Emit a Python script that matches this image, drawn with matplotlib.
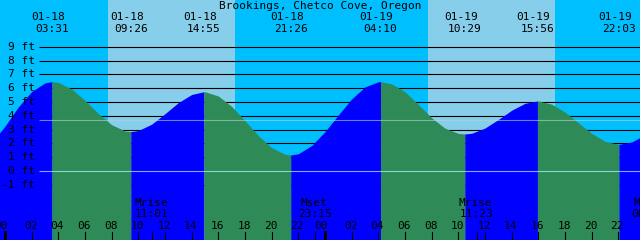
import numpy as np
import matplotlib
matplotlib.use('Agg')
import matplotlib.pyplot as plt
from matplotlib import transforms

# Tide heights (ft), hourly from 01-18 -01:00 to 01-20 00:00
hours = list(range(-1, 49))
feet = [2.05, 3.25, 4.64, 5.75, 6.38, 6.41, 5.94, 5.11, 4.16, 3.35,
        2.90, 2.93, 3.39, 4.15, 4.95, 5.54, 5.74, 5.43, 4.68, 3.64,
        2.56, 1.69, 1.21, 1.25, 1.84, 2.85, 4.06, 5.22, 6.09, 6.46,
        6.31, 5.74, 4.82, 3.85, 3.10, 2.72, 2.73, 3.11, 3.73, 4.40,
        4.90, 5.07, 4.84, 4.27, 3.49, 2.72, 2.15, 1.93, 2.10, 2.62]

# High / low tide events
tide_dates = ['01-18', '01-18', '01-18', '01-18', '01-19', '01-19', '01-19', '01-19']
tide_times = ['03:31', '09:26', '14:55', '21:26', '04:10', '10:29', '15:56', '22:03']
tide_feet = [6.47, 2.85, 5.74, 1.16, 6.47, 2.68, 5.07, 1.93]

# Moon rise / set
moon_names = ['Mrise', 'Mset', 'Mrise', 'Mset']
moon_dates = ['01-18', '01-18', '01-19', '01-20']
moon_times = ['11:01', '23:15', '11:23', '00:13']

# Daylight (sunrise, sunset)
sun_dates = ['01-18', '01-19']
sunrise = ['07:43', '07:43']
sunset = ['17:15', '17:15']

ft_levels = [9, 8, 7, 6, 5, 4, 3, 2, 1, 0, -1]
mean_level = 3.69
title = 'Brookings, Chetco Cove, Oregon'

NIGHT = '#00BFFF'
DAY = '#87CEEB'
FLOOD = '#0000FF'
EBB = '#2E8B57'
FONT = dict(family='DejaVu Sans Mono', fontsize=8, color='black')


def to_hours(date, time):
    """날짜/시각 문자열 -> 01-18 00:00 기준 시간"""
    day = int(date.split('-')[1]) - 18
    hh, mm = time.split(':')
    return day * 24 + int(hh) + int(mm) / 60


X0, X1 = -0.375, 47.625
Y0, Y1 = -4.996, 12.382
W, H = 640, 240


def dx(px):
    return px * (X1 - X0) / W


def row(py):
    return 1 - py / H


fig = plt.figure(figsize=(6.4, 2.4), dpi=100)
ax = fig.add_axes([0, 0, 1, 1])
ax.set_xlim(X0, X1)
ax.set_ylim(Y0, Y1)
ax.axis('off')
ax.add_patch(plt.Rectangle((0, 0), 1, 1, transform=ax.transAxes,
                           color=NIGHT, zorder=0))
mixed = transforms.blended_transform_factory(ax.transData, ax.transAxes)

# day shading
for d, r, s in zip(sun_dates, sunrise, sunset):
    ax.axvspan(to_hours(d, r), to_hours(d, s), color=DAY, lw=0, zorder=0.5)

# ft grid lines (behind the water)
x_start = X0 + dx(39)
ax.hlines(ft_levels, x_start, X1, colors='black', lw=0.8, zorder=1)

# tide curve
event_hours = [to_hours(d, t) for d, t in zip(tide_dates, tide_times)]
t_all = np.array(hours + event_hours, dtype=float)
h_all = np.array(feet + tide_feet, dtype=float)
order = np.argsort(t_all)
t_all, h_all = t_all[order], h_all[order]

bounds = [hours[0]] + event_hours + [hours[-1]]
for i in range(len(bounds) - 1):
    a, b = bounds[i], bounds[i + 1]
    m = (t_all >= a) & (t_all <= b)
    # segment ending at a high tide is rising (flood)
    if i < len(tide_feet):
        rising = i % 2 == 0
    else:
        rising = True
    ax.fill_between(t_all[m], h_all[m], Y0, color=FLOOD if rising else EBB,
                    lw=0, zorder=2)

# datum and mean lines over the water
ax.hlines(0, x_start, X1, colors='#c0f0ff', alpha=0.7, lw=0.8, zorder=3)
ax.hlines(mean_level, x_start, X1, colors='#b0d8d0', alpha=0.6, lw=0.8, zorder=3)

# y labels
for lv in ft_levels:
    ax.text(X0 + dx(35), lv, f'{lv} ft', ha='right', va='center', zorder=4, **FONT)

# header
ax.text(0.5, row(6), title, transform=ax.transAxes, ha='center', va='center',
        zorder=4, **FONT)
for x, d, t in zip(event_hours, tide_dates, tide_times):
    ax.text(x - dx(4), row(17.5), d, transform=mixed, ha='center', va='center',
            zorder=4, **FONT)
    ax.text(x, row(29.5), t, transform=mixed, ha='center', va='center',
            zorder=4, **FONT)

# bottom: hour ticks and labels
for hr in range(0, 48, 2):
    mid = hr % 24 == 0
    ax.axvline(hr, ymin=0, ymax=8 / H, color='black', lw=2.2 if mid else 0.8, zorder=4)
    ax.text(hr - dx(4 if mid else 1), row(226), f'{hr % 24:02d}', transform=mixed,
            ha='center', va='center', zorder=4, **FONT)

# moon events
for n, d, t in zip(moon_names, moon_dates, moon_times):
    x = to_hours(d, t)
    ax.axvline(x, ymin=0, ymax=8 / H, color='black', lw=0.8, zorder=4)
    ax.text(x - dx(1), row(202.5), n, transform=mixed, ha='center', va='center',
            zorder=4, **FONT)
    ax.text(x, row(214), t, transform=mixed, ha='center', va='center',
            zorder=4, **FONT)

fig.savefig('out.png', dpi=100)
